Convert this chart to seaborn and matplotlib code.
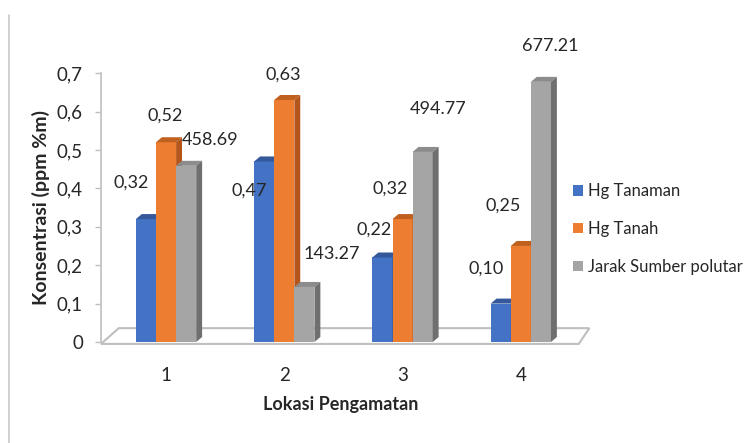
import matplotlib
matplotlib.use("Agg")
import matplotlib.pyplot as plt
from matplotlib.patches import Polygon
from matplotlib.lines import Line2D
import seaborn as sns
import pandas as pd

# Observation sites and measured series
lokasi = ["1", "2", "3", "4"]
hg_tanaman = [0.32, 0.47, 0.22, 0.10]
hg_tanah = [0.52, 0.63, 0.32, 0.25]
jarak_sumber = [458.69, 143.27, 494.77, 677.21]   # distance, plotted on the axis in thousands
series_names = ["Hg Tanaman", "Hg Tanah", "Jarak Sumber polutar"]
y_ticks = [0, 0.1, 0.2, 0.3, 0.4, 0.5, 0.6, 0.7]
y_tick_labels = ["0", "0,1", "0,2", "0,3", "0,4", "0,5", "0,6", "0,7"]

colors = ["#4472C4", "#ED7D31", "#A5A5A5"]
side_colors = ["#2F5597", "#B4561C", "#6F6F6F"]
top_colors = ["#34589A", "#C0601F", "#8C8C8C"]

df = pd.DataFrame({
    "Lokasi": lokasi * 3,
    "Seri": [s for s in series_names for _ in lokasi],
    "Nilai": hg_tanaman + hg_tanah + [d / 1000 for d in jarak_sumber],
})
label_text = [
    [f"{v:.2f}".replace(".", ",") for v in hg_tanaman],
    [f"{v:.2f}".replace(".", ",") for v in hg_tanah],
    [f"{v:.2f}" for v in jarak_sumber],
]
# per-label placement relative to each bar's top (pixels)
label_offsets = [
    [(-15, 36), (-15, -29), (-8, 28), (-15, 35)],
    [(-1, 27), (-1, 25), (-12, 30), (-18, 40)],
    [(24, 26), (27, 33), (15, 43), (9, 36)],
]

sns.set_theme(style="white")
plt.rcParams["font.family"] = ["Lato", "DejaVu Sans"]

fig = plt.figure(figsize=(7.46, 4.43), dpi=100)
ax = fig.add_axes([0.1354, 0.228, 0.642, 0.607])

sns.barplot(data=df, x="Lokasi", y="Nilai", hue="Seri", hue_order=series_names,
            palette=colors, width=0.51, saturation=1, ax=ax, legend=True,
            linewidth=0)

ax.set_xlim(-0.55, 3.5)
ax.set_ylim(0, 0.7)

# pseudo-3D depth of the bars, in data units
dx, dy = 0.05, 0.013

for si, cont in enumerate(ax.containers):
    for bi, bar in enumerate(cont.patches):
        x0 = bar.get_x()
        w = bar.get_width()
        h = bar.get_height()
        z = 3 + si
        bar.set_zorder(z)
        top = Polygon([(x0, h), (x0 + dx, h + dy), (x0 + w + dx, h + dy), (x0 + w, h)],
                      closed=True, facecolor=top_colors[si], edgecolor="none",
                      zorder=z, clip_on=False)
        side = Polygon([(x0 + w, 0), (x0 + w + dx, dy), (x0 + w + dx, h + dy), (x0 + w, h)],
                       closed=True, facecolor=side_colors[si], edgecolor="none",
                       zorder=z, clip_on=False)
        ax.add_patch(top)
        ax.add_patch(side)
        ox, oy = label_offsets[si][bi]
        ax.annotate(label_text[si][bi], (x0 + w / 2, h), xytext=(ox, oy),
                    textcoords="offset pixels", ha="center", va="center",
                    fontsize=13, color="#262626", zorder=10,
                    annotation_clip=False)

# floor of the chart
floor = Polygon([(-0.55, -0.005), (-0.40, 0.036), (3.58, 0.036), (3.49, -0.005)],
                closed=True, facecolor="white", edgecolor="#BFBFBF", linewidth=1.5,
                zorder=1, clip_on=False)
ax.add_patch(floor)

for s in ["top", "right", "bottom"]:
    ax.spines[s].set_visible(False)
ax.spines["left"].set_color("#BFBFBF")
ax.spines["left"].set_linewidth(1.2)

ax.set_yticks(y_ticks)
ax.set_yticklabels(y_tick_labels)
ax.tick_params(axis="y", length=4, width=1, color="#BFBFBF", pad=9,
               labelsize=13.5, labelcolor="#262626", left=True, direction="out")
ax.tick_params(axis="x", length=0, pad=18, labelsize=13.5, labelcolor="#262626")

ax.set_ylabel("Konsentrasi (ppm %m)", fontsize=14, fontweight="bold",
              color="#262626", labelpad=5)
ax.set_xlabel("Lokasi Pengamatan", fontsize=13, fontweight="bold",
              color="#262626", labelpad=9)

handles, labels = ax.get_legend_handles_labels()
ax.legend(handles, labels, loc="center left", bbox_to_anchor=(0.757, 0.483),
          bbox_transform=fig.transFigure, frameon=False, fontsize=12,
          handlelength=0.6, handleheight=0.6, handletextpad=0.3,
          labelspacing=1.3, borderpad=0, labelcolor="#262626")

# outer frame line on the left edge
fig.add_artist(Line2D([0.0125, 0.0125], [0.0, 0.966], transform=fig.transFigure,
                      color="#C8C8C8", linewidth=1.2))

fig.savefig("out.png", dpi=100, facecolor="white")
